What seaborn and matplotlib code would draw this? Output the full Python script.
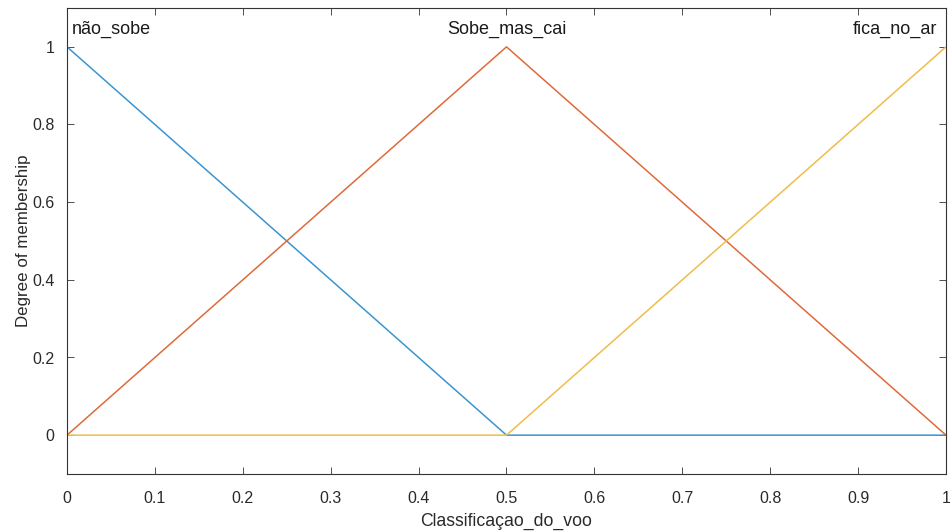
import matplotlib
matplotlib.use("Agg")
import matplotlib.pyplot as plt
import seaborn as sns
import pandas as pd

# Membership function breakpoints
x_nao_sobe = [0.0, 0.5, 1.0]
y_nao_sobe = [1.0, 0.0, 0.0]
x_sobe_mas_cai = [0.0, 0.5, 1.0]
y_sobe_mas_cai = [0.0, 1.0, 0.0]
x_fica_no_ar = [0.0, 0.5, 1.0]
y_fica_no_ar = [0.0, 0.0, 1.0]

mf_names = ["não_sobe", "Sobe_mas_cai", "fica_no_ar"]
mf_peaks = [0.0, 0.5, 1.0]
x_ticks = [0, 0.1, 0.2, 0.3, 0.4, 0.5, 0.6, 0.7, 0.8, 0.9, 1]
x_ticklabels = ["0", "0.1", "0.2", "0.3", "0.4", "0.5", "0.6", "0.7", "0.8", "0.9", "1"]
y_ticks = [0, 0.2, 0.4, 0.6, 0.8, 1]
y_ticklabels = ["0", "0.2", "0.4", "0.6", "0.8", "1"]

sns.set_style("white")
plt.rcParams['font.family'] = ['Liberation Sans', 'DejaVu Sans']

df = pd.concat([
    pd.DataFrame({"x": x_nao_sobe, "y": y_nao_sobe, "mf": mf_names[0]}),
    pd.DataFrame({"x": x_sobe_mas_cai, "y": y_sobe_mas_cai, "mf": mf_names[1]}),
    pd.DataFrame({"x": x_fica_no_ar, "y": y_fica_no_ar, "mf": mf_names[2]}),
])
palette = {mf_names[0]: "#3a95d0", mf_names[1]: "#df6a3a", mf_names[2]: "#eebd4a"}

fig = plt.figure(figsize=(9.5, 5.31), dpi=100)
ax = fig.add_axes([67/950, 1-474/531, (946-67)/950, (474-8)/531])

sns.lineplot(data=df, x="x", y="y", hue="mf", palette=palette, ax=ax,
             legend=False, linewidth=1.1, sort=False, estimator=None)

ax.set_xlim(0, 1)
ax.set_ylim(-0.1, 1.1)
ax.set_xticks(x_ticks)
ax.set_xticklabels(x_ticklabels)
ax.set_yticks(y_ticks)
ax.set_yticklabels(y_ticklabels)

edge = "#333333"
for s in ax.spines.values():
    s.set_visible(True)
    s.set_color(edge)
    s.set_linewidth(0.8)
ax.tick_params(direction="in", length=5, width=0.6, color=edge, labelcolor="#2a2a2a",
               labelsize=11.5, top=True, right=True, bottom=True, left=True)
ax.tick_params(axis="x", pad=12)
ax.tick_params(axis="y", pad=9)

ha_list = ["left", "center", "right"]
offs = [0.006, 0.0, -0.01]
for name, px, ha, off in zip(mf_names, mf_peaks, ha_list, offs):
    ax.text(px + off, 1.046, name, ha=ha, va="center", fontsize=13, color="#1a1a1a")

ax.set_xlabel("Classificaçao_do_voo", fontsize=12.7, color="#2a2a2a", labelpad=5)
ax.set_ylabel("Degree of membership", fontsize=12.2, color="#2a2a2a", labelpad=1)

fig.savefig("out.png", dpi=100)
